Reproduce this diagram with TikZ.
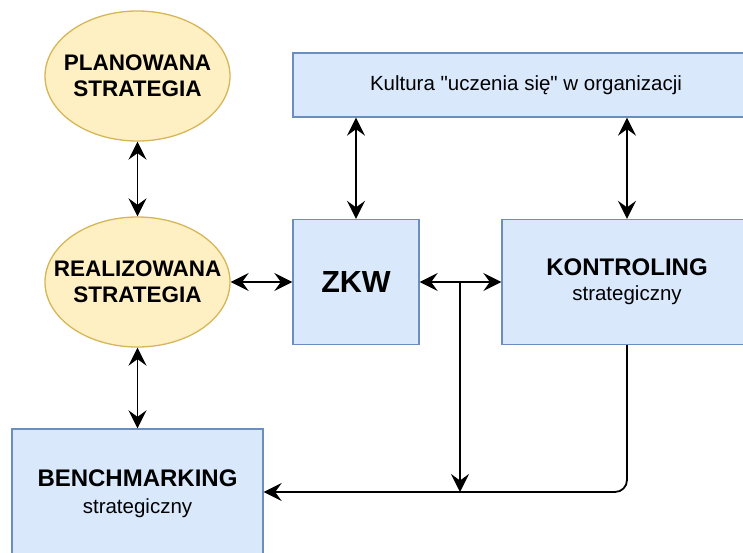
\documentclass[tikz,border=0pt]{standalone}
\usepackage{fontspec}
\setmainfont{Liberation Sans}
\newfontfamily\plainsans[Ligatures=TeXOff]{Liberation Sans}
\usetikzlibrary{shapes.geometric,arrows.meta}
\definecolor{fillblue}{HTML}{DAE8FC}
\definecolor{bordblue}{HTML}{6C8EBF}
\definecolor{fillyel}{HTML}{FFF0C4}
\definecolor{bordyel}{HTML}{D6B656}
\begin{document}
\begin{tikzpicture}[x=1pt,y=-1pt,
  bluebox/.style={draw=bordblue, fill=fillblue, line width=1.3pt, inner sep=0pt, align=center},
  yellowell/.style={ellipse, draw=bordyel, fill=fillyel, line width=1.3pt,
    minimum width=185pt, minimum height=130pt, inner xsep=-32pt, inner ysep=0pt, align=center,
    font=\fontsize{22.5}{26}\selectfont\bfseries},
  conn/.style={line width=1.8pt, draw=black},
  tipa/.tip={Stealth[length=18pt,width=18pt,inset=6.5pt]},
]
\useasboundingbox (0,0) rectangle (743,552);
\clip (0,0) rectangle (743,552);
\fill[white] (0,0) rectangle (743,552);

\node[yellowell] (plan) at (137.5,76) {PLANOWANA\\STRATEGIA};
\node[yellowell] (real) at (137.5,282) {REALIZOWANA\\STRATEGIA};

\node[bluebox, minimum width=466pt, minimum height=64pt,
  font=\fontsize{20.5}{24}\selectfont\plainsans] (kult) at (526,85) {Kultura "uczenia się" w organizacji};
\node[bluebox, minimum width=126pt, minimum height=125pt,
  font=\fontsize{30.5}{34}\selectfont\bfseries] (zkw) at (356,282) {ZKW};
\node[bluebox, minimum width=250pt, minimum height=125pt] (kont) at (627,282)
  {{\fontsize{24}{26}\selectfont\bfseries KONTROLING}\\[9pt]{\fontsize{20.5}{24}\selectfont strategiczny}};
\node[bluebox, minimum width=251pt, minimum height=130pt] (bench) at (137.5,494)
  {{\fontsize{24}{26}\selectfont\bfseries BENCHMARKING}\\[11pt]{\fontsize{20.5}{24}\selectfont strategiczny}};

\draw[conn,tipa-tipa] (plan) -- (real);
\draw[conn,tipa-tipa] (real) -- (bench);
\draw[conn,tipa-tipa] (real) -- (zkw);
\draw[conn,tipa-tipa] (zkw.north) -- (zkw.north |- kult.south);
\draw[conn,tipa-tipa] (kont.north) -- (kont.north |- kult.south);
\draw[conn,tipa-tipa] (zkw) -- (kont);

\coordinate (br) at (460,282);
\coordinate (j) at (460,492);
\draw[conn,-tipa] (br) -- (j);
\draw[conn,-tipa,rounded corners=12pt] (kont.south) -- (kont.south |- j) -- (j -| bench.east);
\end{tikzpicture}
\end{document}
